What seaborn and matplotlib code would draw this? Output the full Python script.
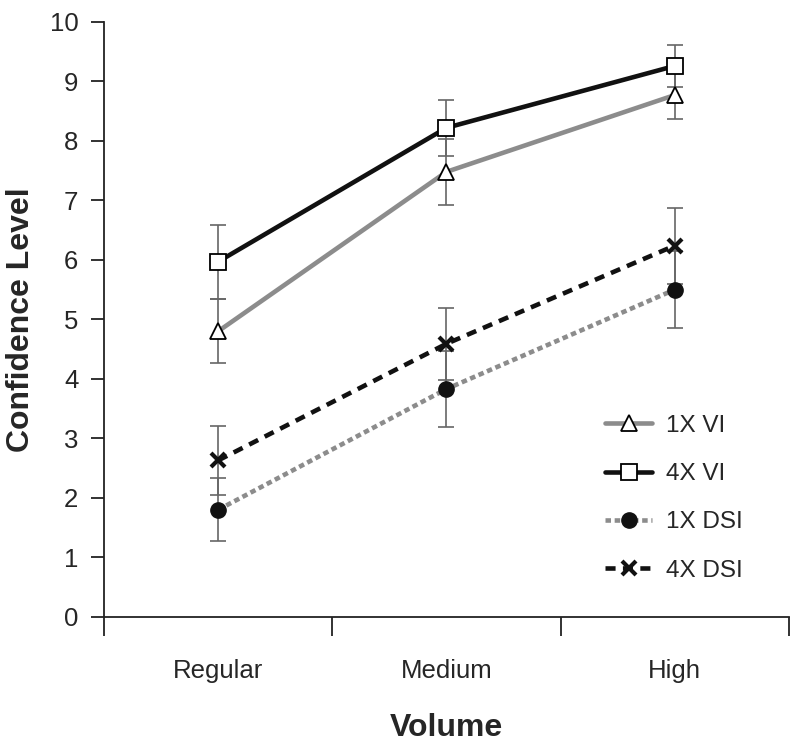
import matplotlib
matplotlib.use("Agg")
import matplotlib.pyplot as plt
import seaborn as sns
import numpy as np

sns.set_theme(style="white")
plt.rcParams['font.family'] = ['Liberation Sans', 'DejaVu Sans']

categories = ["Regular", "Medium", "High"]
series_names = ["1X VI", "4X VI", "1X DSI", "4X DSI"]
vi1 = [4.80, 7.48, 8.77]
vi1_err = [0.54, 0.55, 0.40]
vi4 = [5.97, 8.22, 9.26]
vi4_err = [0.62, 0.47, 0.35]
dsi1 = [1.80, 3.83, 5.50]
dsi1_err = [0.53, 0.64, 0.65]
dsi4 = [2.63, 4.59, 6.24]
dsi4_err = [0.58, 0.61, 0.64]

styles = [
    dict(color="#8c8c8c", ls="-", marker="^", mfc="white", mec="black", ms=12, mew=1.3),
    dict(color="#111111", ls="-", marker="s", mfc="white", mec="black", ms=11.5, mew=1.3),
    dict(color="#8c8c8c", ls=(0, (1.2, 0.8)), marker="o", mfc="#111111", mec="#111111", ms=11, mew=1.0),
    dict(color="#111111", ls=(0, (2.2, 1.6)), marker="x", mfc="#111111", mec="#111111", ms=10.5, mew=3.0),
]
vals = [vi1, vi4, dsi1, dsi4]
errs = [vi1_err, vi4_err, dsi1_err, dsi4_err]

fig = plt.figure(figsize=(8.0, 7.56), dpi=100)
ax = fig.add_axes([0.13, 0.184, 0.856, 0.787])

xpos = np.arange(len(categories))
for name, v, e, st in zip(series_names, vals, errs, styles):
    ax.errorbar(xpos, v, yerr=e, fmt="none", ecolor="#666666", elinewidth=1.2,
                capsize=5.5, capthick=1.2, zorder=2)
    sns.lineplot(x=xpos, y=v, ax=ax, color=st["color"], linestyle=st["ls"], lw=3.3,
                 marker=st["marker"], markerfacecolor=st["mfc"], markeredgecolor=st["mec"],
                 markersize=st["ms"], markeredgewidth=st["mew"], label=name, zorder=3)

ax.set_xlim(-0.5, 2.5)
ax.set_ylim(0, 10)
ax.set_yticks(range(0, 11))
ax.set_xticks([-0.5, 0.5, 1.5, 2.5])
ax.set_xticklabels([])
ax.set_xticks(xpos, minor=True)
ax.set_xticklabels(categories, minor=True)
ax.tick_params(axis="x", which="minor", length=0, pad=30, labelsize=18.5)
ax.tick_params(axis="x", which="major", length=14, width=1.3, direction="out", color="#222222", bottom=True)
ax.tick_params(axis="y", length=9.5, width=1.3, direction="out", color="#222222", left=True, labelsize=18.5, pad=9)

for s in ["top", "right"]:
    ax.spines[s].set_visible(False)
for s in ["left", "bottom"]:
    ax.spines[s].set_color("#222222")
    ax.spines[s].set_linewidth(1.3)

ax.set_xlabel("Volume", fontsize=23, fontweight="bold", labelpad=22)
ax.set_ylabel("Confidence Level", fontsize=23, fontweight="bold", labelpad=10)

leg = ax.legend(loc="center left", bbox_to_anchor=(0.744, 0.341), bbox_transform=fig.transFigure,
                frameon=False, fontsize=17.5, handlelength=1.95, labelspacing=1.08,
                handletextpad=0.58, borderaxespad=0)

fig.savefig("out.png", dpi=100)
